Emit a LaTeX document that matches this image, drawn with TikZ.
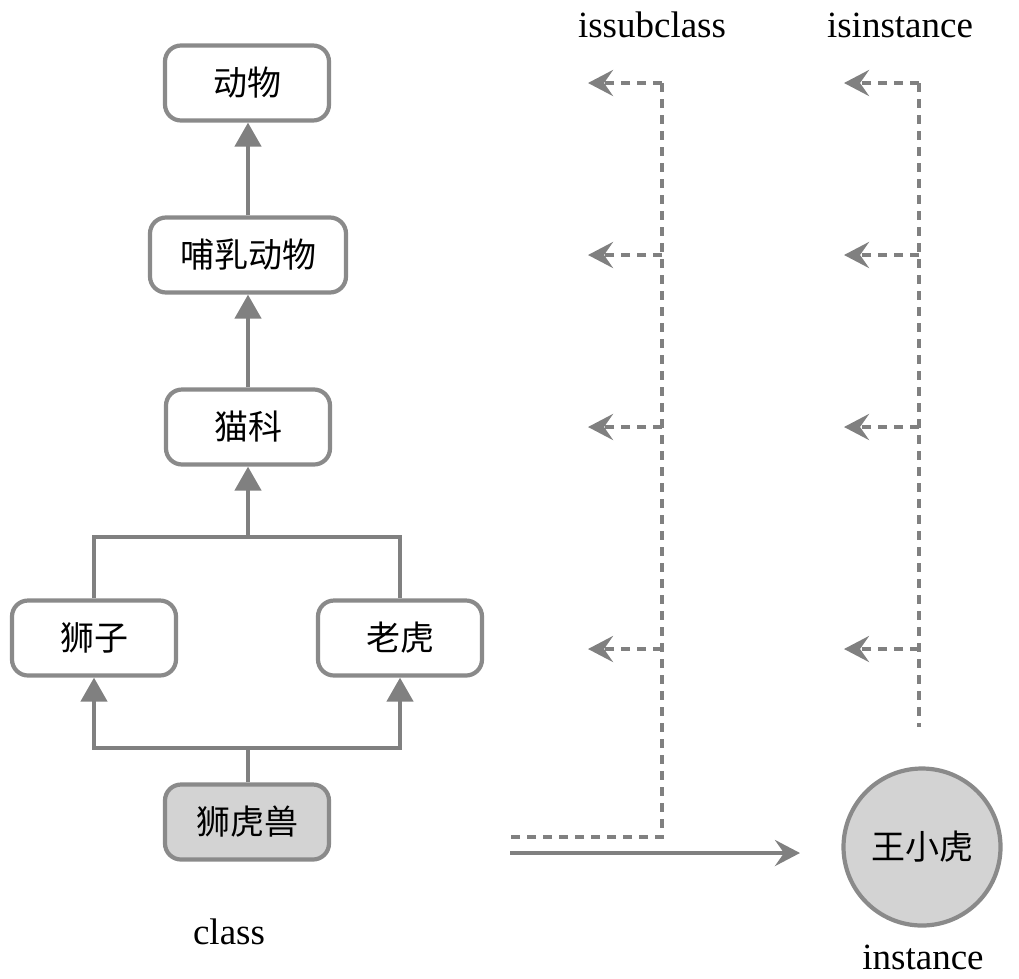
\documentclass[tikz,border=0pt]{standalone}
\usepackage{fontspec}
\setmainfont{Liberation Serif}
\newfontfamily\cjk{Noto Sans CJK SC}
\usetikzlibrary{arrows.meta}
\definecolor{lg}{HTML}{808080}
\definecolor{bx}{HTML}{8A8A8A}
\definecolor{fillg}{HTML}{D3D3D3}
\begin{document}
\begin{tikzpicture}[x=1pt,y=-1pt,
  box/.style={draw=bx, line width=4.2pt, rounded corners=16pt, fill=white,
    minimum width=164pt, minimum height=75pt, inner sep=0pt,
    font=\cjk\fontsize{34}{40}\selectfont},
  tree/.style={draw=lg, line width=4.5pt},
  tri/.style={tree, -{Triangle[width=26pt,length=24pt]}},
  dsh/.style={draw=lg, line width=4pt, dash pattern=on 9pt off 7pt},
  darr/.style={dsh, -{Stealth[width=26pt,length=25pt,inset=9pt]}},
  sarr/.style={draw=lg, line width=4.5pt, -{Stealth[width=26pt,length=25pt,inset=9pt]}},
  lbl/.style={font=\fontsize{37}{42}\selectfont, inner sep=0pt}
]
\useasboundingbox (0,0) rectangle (1019,978);

% class hierarchy
\node[box] (animal) at (247,83) {动物};
\node[box, minimum width=196pt] (mammal) at (248,255) {哺乳动物};
\node[box] (cat) at (248,427) {猫科};
\node[box] (lion) at (94,638) {狮子};
\node[box] (tiger) at (400,638) {老虎};
\node[box, fill=fillg] (liger) at (247,822) {狮虎兽};

\coordinate (bt) at (248,537);
\coordinate (bb) at (248,748);

\draw[tri] (mammal.north -| bt) -- (animal.south -| bt);
\draw[tri] (cat.north -| bt) -- (mammal.south -| bt);
\draw[tree] (lion.north) |- (bt) -| (tiger.north);
\draw[tri] (bt) -- (cat.south -| bt);
\draw[tree] (liger.north -| bb) -- (bb);
\draw[tri] (bb) -| (lion.south);
\draw[tri] (bb) -| (tiger.south);

\node[lbl] (classlbl) at (229,932) {class};

% issubclass column
\node[lbl] (sublbl) at (652,25) {issubclass};
\coordinate (sTop) at (662,83);
\coordinate (sBot) at (662,837);
\coordinate (sEnd) at (510,837);
\draw[dsh] (sTop) -- (sBot) -- (sEnd);
\foreach \y [count=\i] in {83,255,427,649}{
  \coordinate (s\i) at (662,\y);
  \coordinate (st\i) at (588,\y);
  \draw[darr] (s\i) -- (st\i);
}

% isinstance column
\node[lbl] (instlbl) at (900,25) {isinstance};
\coordinate (iTop) at (919,83);
\coordinate (iBot) at (919,727);
\draw[dsh] (iTop) -- (iBot);
\foreach \y [count=\i] in {83,255,427,649}{
  \coordinate (i\i) at (919,\y);
  \coordinate (it\i) at (844,\y);
  \draw[darr] (i\i) -- (it\i);
}

% instance
\node[circle, draw=bx, line width=4.2pt, fill=fillg, minimum size=157pt, inner sep=0pt,
  font=\cjk\fontsize{34}{40}\selectfont] (wang) at (922,847) {王小虎};
\coordinate (aStart) at (510,853);
\coordinate (aEnd) at (800,853);
\draw[sarr] (aStart) -- (aEnd);
\node[lbl] (instance) at (923,957) {instance};
\end{tikzpicture}
\end{document}
